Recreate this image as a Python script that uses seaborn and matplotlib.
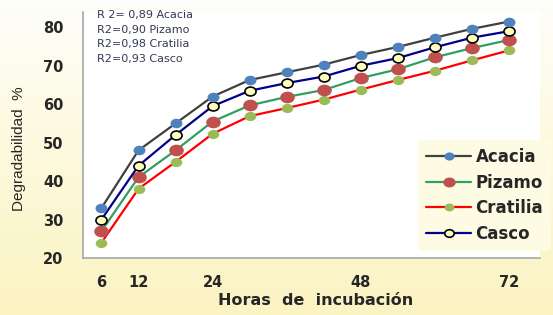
import numpy as np
import pandas as pd
import matplotlib
matplotlib.use("Agg")
import matplotlib.pyplot as plt
import seaborn as sns
from matplotlib.colors import LinearSegmentedColormap
from matplotlib.path import Path

# data
horas = [6, 12, 18, 24, 30, 36, 42, 48, 54, 60, 66, 72]
acacia = [33, 48, 55, 62, 66.3, 68.3, 70.3, 72.8, 74.9, 77.3, 79.6, 81.5]
pizamo = [27, 41, 48, 55.5, 59.7, 61.9, 63.7, 66.8, 69.1, 72.2, 74.6, 76.7]
cratilia = [24, 38, 45, 52.3, 56.9, 59, 61.2, 63.8, 66.3, 68.7, 71.4, 74]
casco = [30, 44, 52, 59.5, 63.5, 65.5, 67.2, 70, 72, 74.8, 77.3, 79]
xticks = [6, 12, 24, 48, 72]
yticks = [20, 30, 40, 50, 60, 70, 80]
r2_text = ["R 2= 0,89 Acacia", "R2=0,90 Pizamo", "R2=0,98 Cratilia", "R2=0,93 Casco"]

sns.set_style("white")
plt.rcParams['font.family'] = ['Liberation Sans', 'DejaVu Sans']

fig = plt.figure(figsize=(5.53, 3.15), dpi=100)

# cream gradient background
bg = fig.add_axes([0, 0, 1, 1], zorder=-10)
grad = np.linspace(0, 1, 256).reshape(-1, 1) * np.ones((1, 256))
cmap = LinearSegmentedColormap.from_list("cream", ["#fefefa", "#fdf9dc", "#fbf3c2"])
bg.imshow(grad, aspect="auto", cmap=cmap, extent=[0, 1, 0, 1], origin="upper")
bg.axis("off")

ax = fig.add_axes([0.150, 0.181, 0.826, 0.781])
ax.set_facecolor("white")

# slightly wide ellipse marker, like the stretched original
circ = Path.unit_circle()
ellipse = Path(circ.vertices * np.array([1.25, 1.0]), circ.codes)

# series styles
series = [
    ("Acacia", acacia, "#404040", "#4f81bd", "#4f81bd", 8.6, 4),
    ("Pizamo", pizamo, "#2ea060", "#c0504d", "#c0504d", 10.5, 2),
    ("Cratilia", cratilia, "#ff0000", "#9bbb59", "#9bbb59", 8.3, 1),
    ("Casco", casco, "#00008b", "#ffffc0", "#000000", 8, 3),
]
for name, vals, lc, mfc, mec, ms, z in series:
    df = pd.DataFrame({"h": horas, "v": vals})
    sns.lineplot(data=df, x="h", y="v", ax=ax, color=lc, lw=1.6,
                 marker=ellipse, markersize=ms, markerfacecolor=mfc,
                 markeredgecolor=mec, markeredgewidth=1.2 if name == "Casco" else 0,
                 label=name, zorder=z)

ax.set_xlim(3, 77)
ax.set_ylim(20, 84)
ax.set_xticks(xticks)
ax.set_yticks(yticks)
ax.tick_params(axis="both", length=0)
ax.tick_params(axis="y", pad=14)
ax.tick_params(axis="x", pad=12)
for lab in ax.get_xticklabels() + ax.get_yticklabels():
    lab.set_fontweight("bold")
    lab.set_fontfamily("DejaVu Sans")
    lab.set_fontsize(10.5)
ax.set_xlabel("")
ax.set_ylabel("")
for s in ["top", "right"]:
    ax.spines[s].set_visible(False)
for s in ["left", "bottom"]:
    ax.spines[s].set_color("#a6a6a6")
    ax.spines[s].set_linewidth(1.2)

# R2 annotations
for i, t in enumerate(r2_text):
    fig.text(0.176, 0.952 - i * 0.046, t, fontsize=8, family="DejaVu Sans",
             color="#333a55", va="center")

fig.text(0.57, 0.045, "Horas  de  incubación", fontsize=11.5, fontweight="bold",
         family="DejaVu Sans", ha="center", va="center")
fig.text(0.034, 0.527, "Degradabilidad  %", fontsize=11, rotation=90,
         ha="center", va="center")

leg = ax.legend(loc="upper left", bbox_to_anchor=(418 / 553, 1 - 140 / 315),
                bbox_transform=fig.transFigure, frameon=True,
                prop={"weight": "bold", "size": 12, "family": "DejaVu Sans"},
                handlelength=2.7, handletextpad=0.25, labelspacing=0.45,
                borderpad=0.5, borderaxespad=0, markerscale=0.85)
leg.get_frame().set_facecolor("#fdfbe4")
leg.get_frame().set_edgecolor("none")
leg.get_frame().set_alpha(1)
leg.set_zorder(20)

fig.savefig("out.png", dpi=100)
